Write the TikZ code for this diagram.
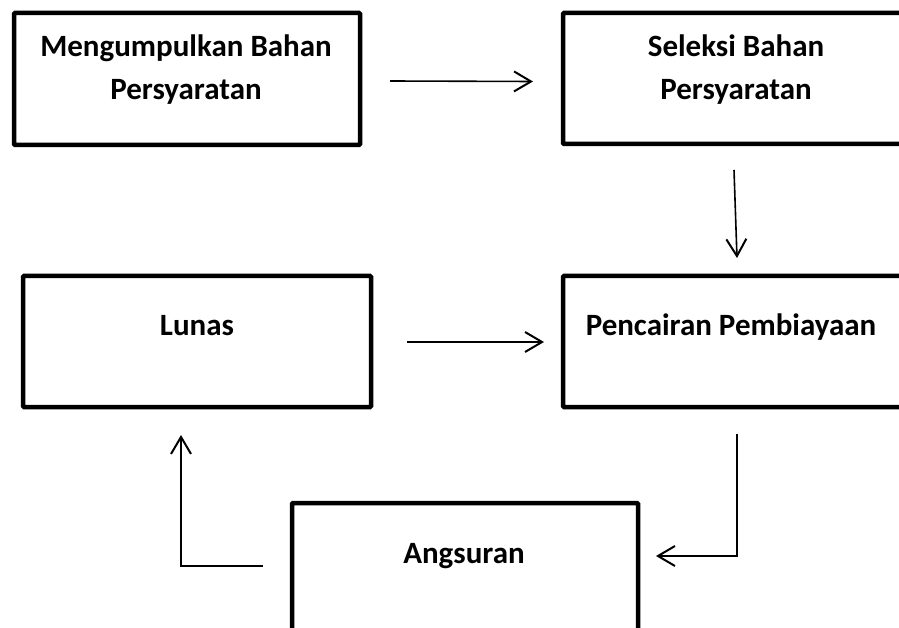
\documentclass[tikz,border=0pt]{standalone}
\usepackage{fontspec}
\setmainfont{Carlito}
\usetikzlibrary{arrows.meta,calc}
\begin{document}
\begin{tikzpicture}[x=1pt,y=-1pt,
  box/.style={draw=black,line width=4.5pt,rectangle,rounded corners=1pt,inner sep=0pt,outer sep=0pt},
  lbl/.style={font=\fontsize{31}{43}\selectfont\bfseries,align=center,inner sep=0pt,outer sep=0pt},
  arr/.style={line width=1.6pt,-{Straight Barb[length=17pt,width=20pt,line width=2pt]}}]
\useasboundingbox (0,0) rectangle (899,628);
\clip (0,0) rectangle (899,628);
\fill[white] (0,0) rectangle (899,628);
% boxes
\node[box,minimum width=346pt,minimum height=132pt] (b1) at (187,79) {};
\node[box,minimum width=342pt,minimum height=131pt] (b2) at (734,78.5) {};
\node[box,minimum width=348pt,minimum height=131pt] (b3) at (197,341.5) {};
\node[box,minimum width=342pt,minimum height=131pt] (b4) at (734,341.5) {};
\node[box,minimum width=346pt,minimum height=137pt] (b5) at (465,571.5) {};
% texts
\node[lbl,anchor=base] (t1) at (186,100) {Mengumpulkan Bahan\\Persyaratan};
\node[lbl,anchor=base] (t2) at (736,100) {Seleksi Bahan\\Persyaratan};
\node[lbl,anchor=base] (t3) at (197,335) {Lunas};
\node[lbl,anchor=base] (t4) at (731,335) {Pencairan Pembiayaan};
\node[lbl,anchor=base] (t5) at (464,563) {Angsuran};
% arrows
\draw[arr] ($(b1.east)+(30,2)$) -- ($(b2.west)+(-30,3)$);
\draw[arr] ($(b2.south west)+(171,26)$) -- ($(b4.north west)+(174,-18)$);
\draw[arr] ($(b3.east)+(36,0.5)$) -- ($(b4.west)+(-19,0.5)$);
\draw[arr] ($(b4.south west)+(174,27)$) |- ($(b5.east)+(18,-15.5)$);
\draw[arr] ($(b5.west)+(-29,-5.5)$) -| ($(b3.south west)+(158,28)$);
\end{tikzpicture}
\end{document}
